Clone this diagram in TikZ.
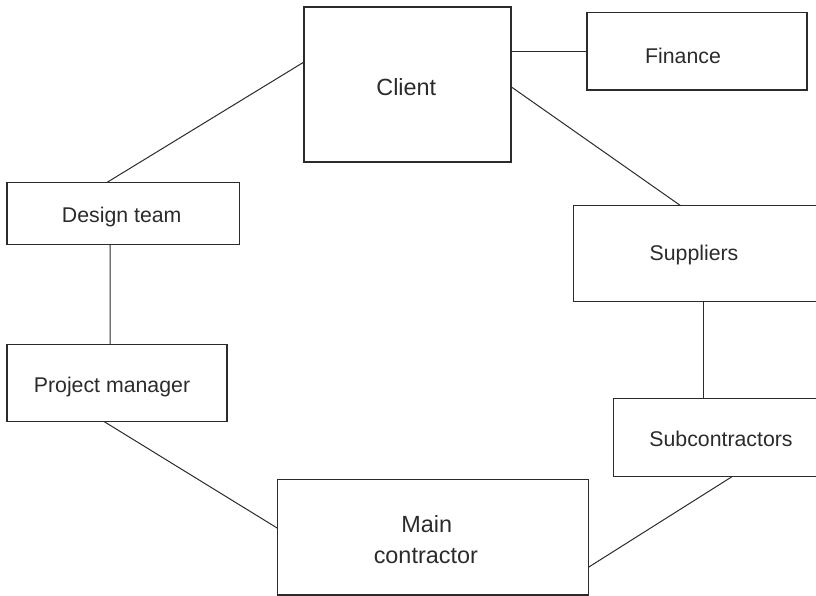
\documentclass[tikz,border=0pt]{standalone}
\usepackage{fontspec}
\setmainfont{Liberation Sans}
\usetikzlibrary{calc}
\definecolor{ink}{HTML}{2B2B2B}
\begin{document}
\begin{tikzpicture}[x=1pt,y=-1pt,
  box/.style={draw=ink, line width=1.3pt, rectangle, inner sep=0pt, outer sep=0pt},
  link/.style={draw=ink, line width=1pt},
  lbl/.style={anchor=base, inner sep=0pt, text=ink, font=\fontsize{21.3}{25}\selectfont},
  biglbl/.style={lbl, font=\fontsize{23.4}{28}\selectfont}]
  \useasboundingbox (0,0) rectangle (816,596);
  \clip (0,0) rectangle (816,596);

  % boxes
  \node[box, minimum width=207pt,   minimum height=155pt]  (client) at (407.5,84.5)   {};
  \node[box, minimum width=220pt,   minimum height=77.3pt] (fin)    at (697,51.35)    {};
  \node[box, minimum width=232.3pt, minimum height=62.4pt] (design) at (123.15,213.5) {};
  \node[box, minimum width=256.7pt, minimum height=96pt]   (supp)   at (701.65,253.7) {};
  \node[box, minimum width=220pt,   minimum height=77.4pt] (pm)     at (117,383)      {};
  \node[box, minimum width=216.7pt, minimum height=78.4pt] (sub)    at (721.65,437.5) {};
  \node[box, minimum width=310.6pt, minimum height=115.7pt](main)   at (433,537.15)   {};

  % labels
  \node[biglbl] (tclient) at (406.3,95.7)  {Client};
  \node[lbl]    (tfin)    at (683,63.3)    {Finance};
  \node[lbl]    (tdesign) at (121.7,222.3) {Design team};
  \node[lbl]    (tsupp)   at (694,260)     {Suppliers};
  \node[lbl]    (tpm)     at (112,392.7)   {Project manager};
  \node[lbl]    (tsub)    at (721,446.7)   {Subcontractors};
  \node[biglbl] (tmain1)  at (426.7,532.3) {Main};
  \node[biglbl] (tmain2)  at (425.8,563.3) {contractor};

  % connectors
  \draw[link] ($(client.west)+(0,-22.5)$) -- ($(design.north)+(-16,0)$);
  \draw[link] (client.east |- fin.west) -- (fin.west);
  \draw[link] ($(client.east)+(0,2.2)$) -- ($(supp.north)+(-21,0)$);
  \draw[link] ($(design.south)+(-13,0)$) -- ($(pm.north)+(-7,0)$);
  \draw[link] ($(supp.south)+(1.7,0)$) -- ($(sub.north)+(-18.3,0)$);
  \draw[link] ($(pm.south)+(-12.7,0)$) -- ($(main.west)+(0,-8.8)$);
  \draw[link] ($(sub.south)+(10.3,0)$) -- ($(main.east)+(0,30.2)$);
\end{tikzpicture}
\end{document}
